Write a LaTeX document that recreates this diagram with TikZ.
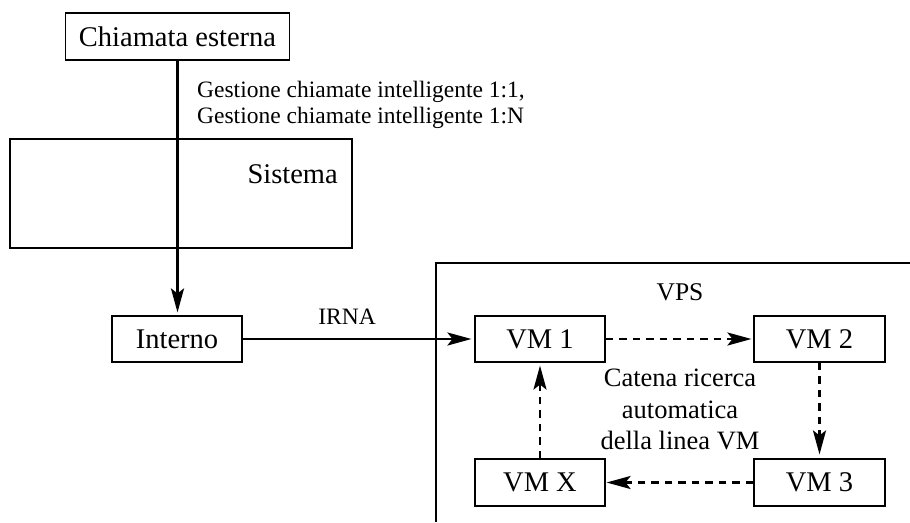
\documentclass[tikz,border=0pt]{standalone}
\usepackage{fontspec}
\setmainfont{Liberation Serif}
\usetikzlibrary{arrows.meta}
\tikzset{
  box/.style={draw, line width=1.1pt, inner sep=0pt, minimum width=130pt, minimum height=46pt,
    font=\fontsize{28.5}{32}\selectfont},
  bigtext/.style={font=\fontsize{28.5}{32}\selectfont, inner sep=0pt},
  midtext/.style={font=\fontsize{26.5}{31.5}\selectfont, inner sep=0pt},
  smalltext/.style={font=\fontsize{23.5}{26}\selectfont, inner sep=0pt},
  headtip/.tip={Stealth[length=24pt, width=13pt, inset=5pt]},
  solidarrow/.style={line width=2.6pt, -headtip},
  dasharrow/.style={line width=2.6pt, dash pattern=on 7.5pt off 6pt, -headtip},
  frame/.style={draw, line width=1.1pt}
}
\begin{document}
\begin{tikzpicture}[x=1pt, y=-1pt]
\useasboundingbox (0,0) rectangle (910,522);
% frames
\node[frame, inner sep=0pt, minimum width=342pt, minimum height=109pt] (sistema) at (181,193.5) {};
\node[bigtext, anchor=base east] (sistemalabel) at (338,183) {Sistema};
\draw[line width=1.1pt] (910,263) coordinate (vpstr) -- (436,263) coordinate (vpstl) -- (436,522) coordinate (vpsbl);
\node[midtext, font=\fontsize{25.5}{30}\selectfont, anchor=base] (vpslabel) at (680,300) {VPS};
% nodes
\node[box, minimum width=224pt, minimum height=47pt] (chiamata) at (177.5,36.5) {Chiamata esterna};
\node[box] (interno) at (177,339) {Interno};
\node[box] (vm1) at (540,339) {VM 1};
\node[box, minimum width=131pt] (vm2) at (819.5,339) {VM 2};
\node[box, minimum width=131pt, minimum height=47pt] (vm3) at (819.5,482.5) {VM 3};
\node[box, minimum height=47pt] (vmx) at (540,482.5) {VM X};
% texts
\node[smalltext, align=left, anchor=west] (gestione) at (197,104.5) {Gestione chiamate intelligente 1:1,\\Gestione chiamate intelligente 1:N};
\node[smalltext, anchor=base] (irna) at (347,324) {IRNA};
\node[midtext, align=center] (catena) at (680,409.5) {Catena ricerca\\automatica\\della linea VM};
% connectors
\draw[solidarrow, shorten >=3pt] (chiamata.south) -- (chiamata.south |- interno.north);
\draw[solidarrow, shorten >=3pt] (interno.east) -- (vm1.west);
\draw[dasharrow, shorten >=2pt] (vm1.east) -- (vm2.west);
\draw[dasharrow, shorten >=4pt] (vm2.south) -- (vm3.north);
\draw[dasharrow, shorten >=1pt] (vm3.west) -- (vmx.east);
\draw[dasharrow, shorten >=3pt] (vmx.north) -- (vm1.south);
\end{tikzpicture}
\end{document}
